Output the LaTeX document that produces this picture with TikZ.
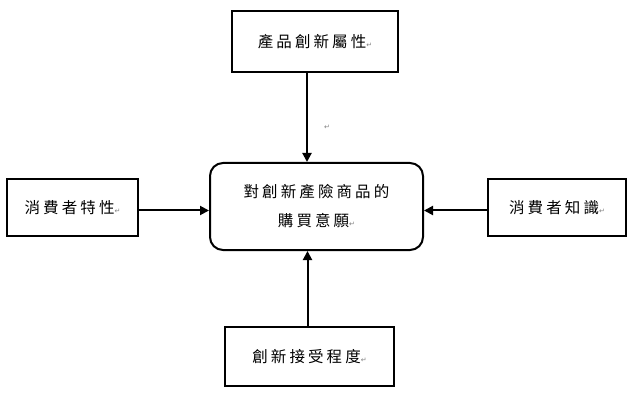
\documentclass[tikz,border=0pt]{standalone}
\usepackage{fontspec}
\usepackage{xcolor}
\usetikzlibrary{arrows.meta,positioning,calc}
\newfontfamily\cjk[LetterSpace=20]{Noto Sans CJK TC}
\newfontfamily\symfont{DejaVu Sans}
\newcommand{\retmark}{{\symfont\fontsize{7}{7}\selectfont\textcolor{gray}{↵}}}

\begin{document}
\begin{tikzpicture}[x=1pt,y=-1pt,
  factor/.style={draw,line width=2pt,inner sep=0pt,font=\cjk\fontsize{15.5}{15.5}\selectfont},
  target/.style={draw,line width=2pt,rounded corners=13pt,inner sep=0pt,align=center,
    font=\cjk\fontsize{15.5}{29}\selectfont},
  arr/.style={-{Triangle[length=9pt,width=9pt]},line width=2pt}]
\useasboundingbox (0,0) rectangle (631,403);
\node[target,minimum width=213,minimum height=87] (intent) at (316.5,206.5)
  {對創新產險商品的\\購買意願\retmark};
\node[factor,minimum width=166,minimum height=61] (attr) at (315,41.5) {產品創新屬性\retmark};
\node[factor,minimum width=131,minimum height=57] (trait) at (72.5,207.5) {消費者特性\retmark};
\node[factor,minimum width=138,minimum height=57] (know) at (557,207.5) {消費者知識\retmark};
\node[factor,minimum width=169,minimum height=59] (accept) at (309.5,356.5) {創新接受程度\retmark};
\node (mark) at (327,127) {\retmark};
\draw[arr] ([xshift=-8]attr.south) -- ([xshift=-8]attr.south |- intent.north);
\draw[arr] ([xshift=-2]accept.north) -- ([xshift=-2]accept.north |- intent.south);
\draw[arr] ([yshift=-3]trait.east) -- ([yshift=-3]trait.east -| intent.west);
\draw[arr] ([yshift=-3]know.west) -- ([yshift=-3]know.west -| intent.east);
\end{tikzpicture}
\end{document}
